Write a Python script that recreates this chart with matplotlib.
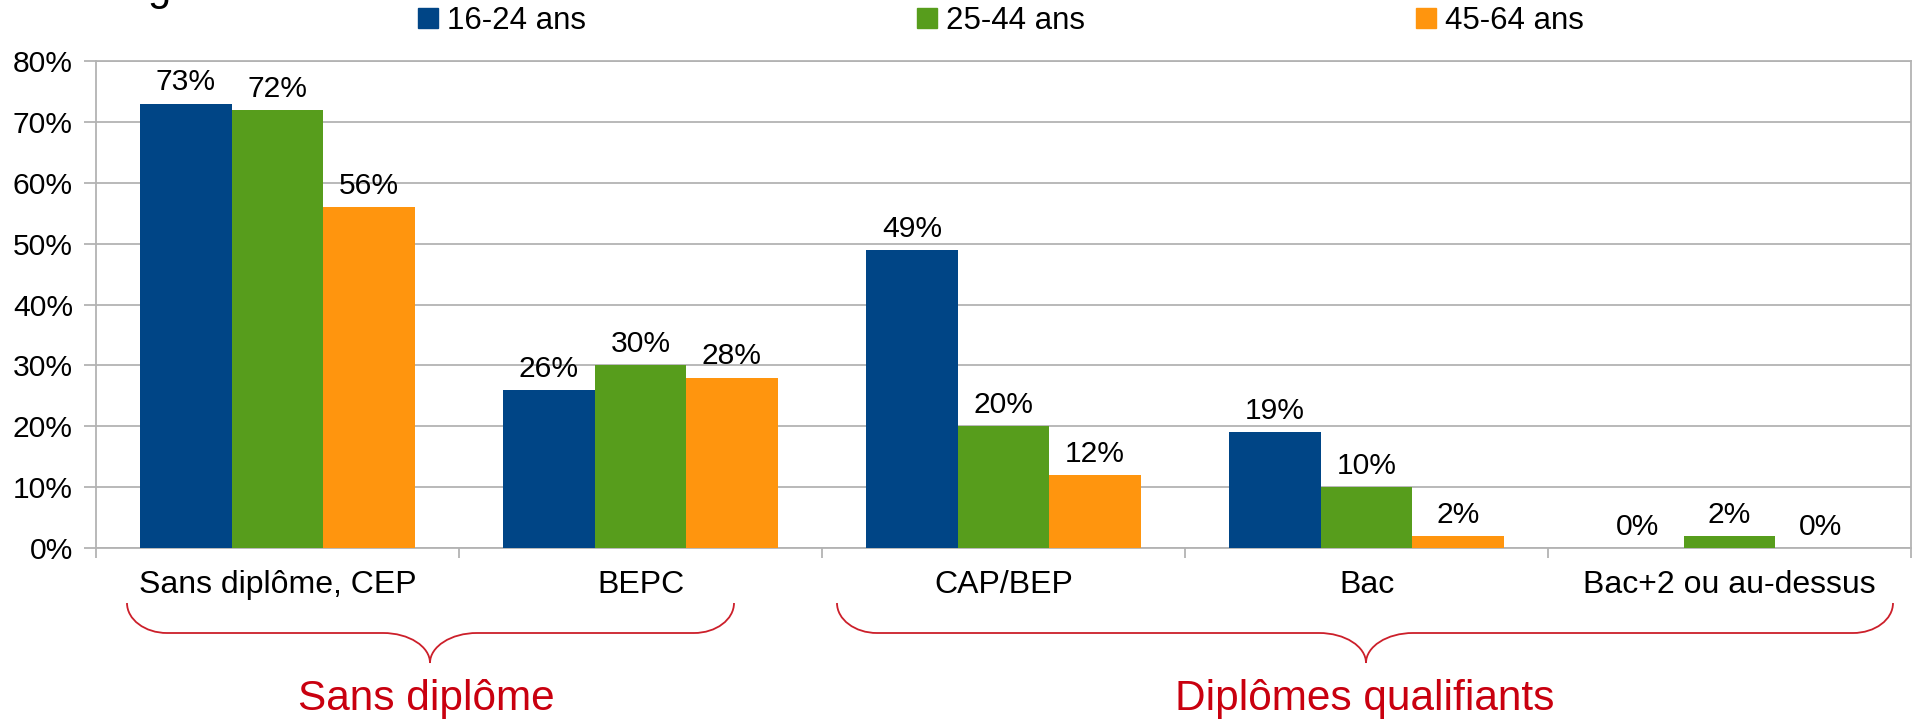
import matplotlib
matplotlib.use("Agg")
import matplotlib.pyplot as plt
import numpy as np
from matplotlib.path import Path
from matplotlib.patches import PathPatch, Patch

plt.rcParams['font.family'] = ['Liberation Sans', 'DejaVu Sans']

categories = ["Sans diplôme, CEP", "BEPC", "CAP/BEP", "Bac", "Bac+2 ou au-dessus"]
series_names = ["16-24 ans", "25-44 ans", "45-64 ans"]
v_16_24 = [0.73, 0.26, 0.49, 0.19, 0.00]
v_25_44 = [0.72, 0.30, 0.20, 0.10, 0.02]
v_45_64 = [0.56, 0.28, 0.12, 0.02, 0.00]
series_values = [v_16_24, v_25_44, v_45_64]
colors = ["#004586", "#579D1C", "#FF950E"]
yticks = [0.0, 0.1, 0.2, 0.3, 0.4, 0.5, 0.6, 0.7, 0.8]
ytick_labels = ["0%", "10%", "20%", "30%", "40%", "50%", "60%", "70%", "80%"]
group_labels = ["Sans diplôme", "Diplômes qualifiants"]

W, H = 1916, 722
fig = plt.figure(figsize=(W / 100, H / 100), dpi=100)
ax = fig.add_axes([96 / W, 1 - 548 / H, (1911 - 96) / W, (548 - 61) / H])

grid_c = "#b3b3b3"
x = np.arange(len(categories))
bw = 0.252
for i, (name, vals, c) in enumerate(zip(series_names, series_values, colors)):
    xs = x + (i - 1) * bw
    ax.bar(xs, vals, width=bw, color=c, label=name, zorder=3)
    for xx, v in zip(xs, vals):
        ax.annotate(f"{round(v * 100):d}%", (xx, v), xytext=(0, 9.5),
                    textcoords="offset points", ha="center", va="baseline",
                    fontsize=21.6, color="black")

ax.set_xlim(-0.5, len(categories) - 0.5)
ax.set_ylim(0, 0.8)
ax.set_yticks(yticks)
ax.set_yticklabels(ytick_labels, fontsize=21.6)
ax.yaxis.grid(True, color=grid_c, linewidth=1.3, zorder=0)
ax.tick_params(axis="y", length=8.6, width=1.3, color=grid_c, pad=8)

ax.set_xticks(x)
ax.set_xticklabels(categories, fontsize=23)
ax.set_xticks(np.arange(-0.5, len(categories)), minor=True)
ax.tick_params(axis="x", which="major", length=0, pad=16)
ax.tick_params(axis="x", which="minor", length=7.5, width=1.3, color=grid_c)

for s in ax.spines.values():
    s.set_color(grid_c)
    s.set_linewidth(1.3)

# legend
handles = [Patch(facecolor=c, edgecolor=c) for c in colors]
fig.legend(handles, series_names, loc="center", bbox_to_anchor=(1001 / W, 1 - 21 / H),
           ncol=3, frameon=False, fontsize=22.5, handlelength=0.62, handleheight=0.6,
           handletextpad=0.3, columnspacing=10.6, borderpad=0, borderaxespad=0)

# partially visible title (only the descender of a "g" shows in the reference)
fig.text(147 / W, 1.0, "g", fontsize=30, ha="left", va="baseline")

# braces (figure pixel geometry)
def brace(x0, xm, x1, ytop=603, yh=633, ytip=663, re=40, rm=47):
    k = 0.552
    pts = [
        (x0, ytop),
        (x0, ytop + k * (yh - ytop)), (x0 + re - k * re, yh), (x0 + re, yh),
        (xm - rm, yh),
        (xm - rm + k * rm, yh), (xm, ytip - k * (ytip - yh)), (xm, ytip),
        (xm, ytip - k * (ytip - yh)), (xm + rm - k * rm, yh), (xm + rm, yh),
        (x1 - re, yh),
        (x1 - re + k * re, yh), (x1, ytop + k * (yh - ytop)), (x1, ytop),
    ]
    codes = [Path.MOVETO,
             Path.CURVE4, Path.CURVE4, Path.CURVE4,
             Path.LINETO,
             Path.CURVE4, Path.CURVE4, Path.CURVE4,
             Path.CURVE4, Path.CURVE4, Path.CURVE4,
             Path.LINETO,
             Path.CURVE4, Path.CURVE4, Path.CURVE4]
    verts = [(px / W, 1 - py / H) for px, py in pts]
    fig.add_artist(PathPatch(Path(verts, codes), facecolor="none", edgecolor="#CC1F2A",
                             linewidth=1.3, transform=fig.transFigure))

red = "#C9000F"
brace(127, 430, 734)
brace(837, 1366, 1893)
fig.text(426 / W, 1 - 699 / H, group_labels[0], color=red, fontsize=30.5, ha="center", va="center")
fig.text(1365 / W, 1 - 699 / H, group_labels[1], color=red, fontsize=30.5, ha="center", va="center")

fig.savefig("out.png", dpi=100)
